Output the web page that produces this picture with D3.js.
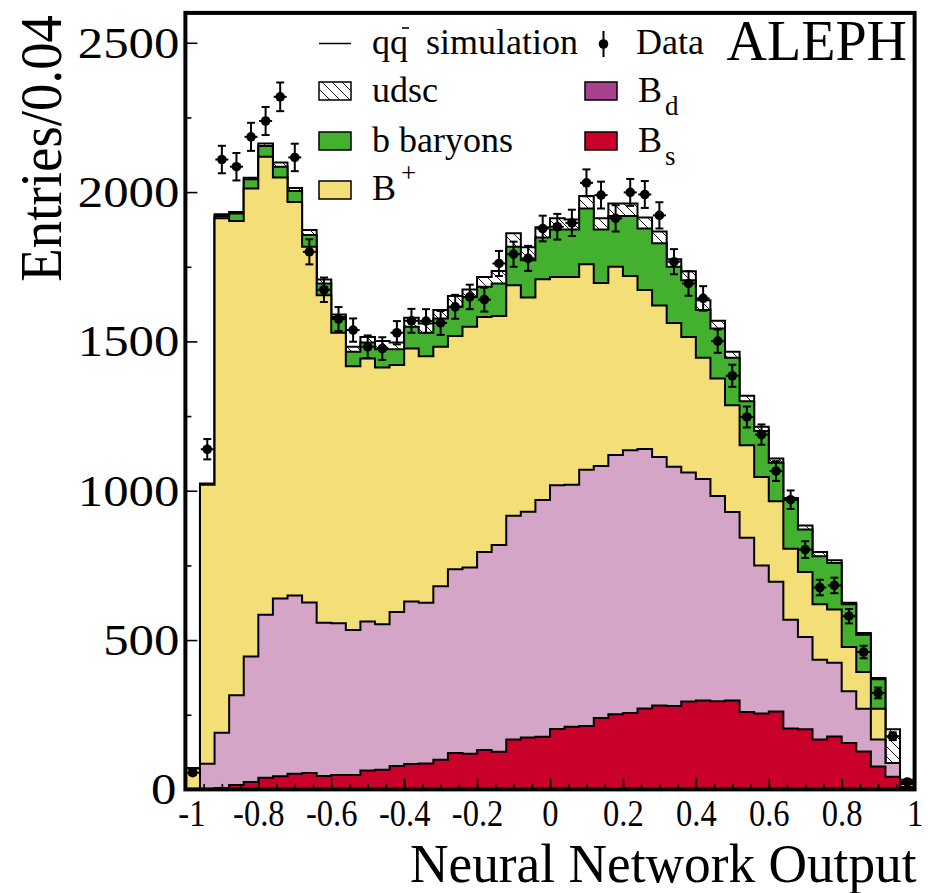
<!DOCTYPE html>
<html>
<head>
<meta charset="utf-8">
<script src="https://cdn.jsdelivr.net/npm/d3@7"></script>
<style>
  body { margin: 0; background: #fff; }
  svg { display: block; }
  text { font-family: "Liberation Serif", "Times New Roman", serif; fill: #000; }
</style>
</head>
<body>
<svg id="chart" width="928" height="893"></svg>
<script>
// Neural network output, 50 bins of width 0.04 between -1 and 1
const xMin = -1, xMax = 1, binWidth = 0.04;

// Simulated contributions per bin (entries)
const bsCounts = [0, 0, 5, 15, 25, 39, 44, 52, 55, 45, 48, 48, 63, 66, 78, 85, 87, 99, 122, 119,
  132, 126, 167, 174, 176, 202, 210, 212, 239, 252, 256, 271, 281, 279, 294, 298, 295, 298, 259, 254,
  261, 204, 201, 167, 177, 155, 127, 77, 42, 8];
const bdCounts = [0, 86, 185, 300, 420, 546, 595, 597, 571, 513, 508, 486, 499, 487, 516, 544, 538, 581, 615, 624,
  663, 692, 749, 756, 793, 816, 810, 858, 844, 868, 880, 869, 832, 801, 767, 741, 687, 631, 584, 496,
  434, 364, 309, 267, 247, 174, 143, 90, 46, 10];
const bPlusCounts = [70, 934, 1722, 1588, 1567, 1533, 1410, 1318, 1191, 1097, 973, 883, 881, 860, 827, 847, 825, 802, 781, 806,
  787, 767, 772, 717, 739, 698, 696, 688, 613, 630, 583, 532, 507, 482, 454, 406, 394, 357, 309, 296,
  270, 238, 218, 186, 178, 148, 123, 103, 0, 0];
const baryonCounts = [0, 2, 8, 25, 31, 36, 36, 37, 39, 39, 53, 48, 53, 61, 53, 73, 79, 95, 98, 100,
  101, 109, 129, 125, 140, 159, 159, 187, 179, 170, 201, 206, 209, 188, 190, 160, 167, 159, 148, 154,
  129, 164, 142, 161, 156, 143, 125, 99, 0, 0];
const udscCounts = [2, 2, 6, 5, 5, 9, 14, 10, 17, 13, 8, 17, 19, 27, 22, 30, 31, 28, 36, 25,
  33, 42, 45, 43, 34, 37, 33, 42, 37, 42, 42, 37, 39, 25, 30, 33, 26, 20, 18, 14,
  14, 6, 14, 14, 9, 5, 6, 4, 113, 14];

// Measured data with statistical errors
const dataCounts = [56, 1139, 2109, 2085, 2185, 2238, 2319, 2116, 1800, 1673, 1575, 1538, 1482, 1476, 1529, 1569, 1568, 1562, 1616, 1649,
  1640, 1761, 1792, 1778, 1878, 1884, 1897, 2031, 1990, 1912, 1999, 1992, 1922, 1767, 1694, 1644, 1501, 1385, 1247, 1188,
  1066, 970, 803, 676, 683, 580, 460, 323, 178, 25];
const dataErrors = [8, 34, 46, 46, 47, 47, 48, 46, 42, 41, 40, 39, 38, 38, 39, 40, 40, 40, 40, 41,
  40, 42, 42, 42, 43, 43, 44, 45, 45, 44, 45, 45, 44, 42, 41, 41, 39, 37, 35, 34,
  33, 31, 28, 26, 26, 24, 21, 18, 13, 5];

// Axis ticks and labels
const xMajorTicks = [-1, -0.8, -0.6, -0.4, -0.2, 0, 0.2, 0.4, 0.6, 0.8, 1];
const xTickLabels = ["-1", "-0.8", "-0.6", "-0.4", "-0.2", "0", "0.2", "0.4", "0.6", "0.8", "1"];
const yMajorTicks = [0, 500, 1000, 1500, 2000, 2500];
const yTickLabels = ["0", "500", "1000", "1500", "2000", "2500"];

const colors = {
  bs: "#c8002a",
  bd: "#d4a5c7",
  bdLegend: "#a8428e",
  bPlus: "#f3de78",
  baryon: "#43b02f"
};

const svg = d3.select("#chart");
const plot = { left: 185.4, right: 914.6, top: 12.9, bottom: 789.4 };

const x = d3.scaleLinear().domain([xMin, xMax]).range([plot.left, plot.right]);
const y = d3.scaleLinear().domain([0, 2600]).range([plot.bottom, plot.top]);

// Hatch pattern for the udsc component
const defs = svg.append("defs");
const hatch = defs.append("pattern")
  .attr("id", "hatch").attr("patternUnits", "userSpaceOnUse")
  .attr("width", 10).attr("height", 10);
hatch.append("rect").attr("width", 10).attr("height", 10).attr("fill", "#fff");
hatch.append("path")
  .attr("d", "M0,0L10,10M-1,9L1,11M9,-1L11,1")
  .attr("stroke", "#000").attr("stroke-width", 0.9);

// Stack the components from the bottom up
const rows = bsCounts.map((_, i) => ({
  bs: bsCounts[i], bd: bdCounts[i], bPlus: bPlusCounts[i],
  baryon: baryonCounts[i], udsc: udscCounts[i]
}));
const keys = ["bs", "bd", "bPlus", "baryon", "udsc"];
const stacked = d3.stack().keys(keys)(rows);

const binLow = i => xMin + i * binWidth;

// Step outline of a cumulative histogram, filled down to zero
function cumulativePoints(layer) {
  const pts = layer.map((d, i) => [binLow(i), d[1]]);
  pts.push([xMax, layer[layer.length - 1][1]]);
  return pts;
}
const stepArea = d3.area()
  .x(d => x(d[0]))
  .y0(y(0))
  .y1(d => y(d[1]))
  .curve(d3.curveStepAfter);

const fills = { udsc: "url(#hatch)", baryon: colors.baryon, bPlus: colors.bPlus, bd: colors.bd, bs: colors.bs };

const histG = svg.append("g");
// Draw the largest cumulative first so every boundary keeps its outline
[...stacked].reverse().forEach(layer => {
  histG.append("path")
    .attr("d", stepArea(cumulativePoints(layer)))
    .attr("fill", fills[layer.key])
    .attr("stroke", "#000")
    .attr("stroke-width", 2)
    .attr("stroke-linejoin", "miter");
});

// Data points with error bars
const dataG = svg.append("g");
dataCounts.forEach((v, i) => {
  const cx = x(binLow(i) + binWidth / 2);
  const cy = y(v);
  const yHi = y(v + dataErrors[i]);
  const yLo = y(Math.max(0, v - dataErrors[i]));
  const g = dataG.append("g").attr("stroke", "#000").attr("stroke-width", 2);
  g.append("line").attr("x1", cx).attr("x2", cx).attr("y1", yHi).attr("y2", yLo);
  g.append("line").attr("x1", cx - 4).attr("x2", cx + 4).attr("y1", yHi).attr("y2", yHi);
  g.append("line").attr("x1", cx - 4).attr("x2", cx + 4).attr("y1", yLo).attr("y2", yLo);
  g.append("line").attr("x1", cx - 6.5).attr("x2", cx + 6.5).attr("y1", cy).attr("y2", cy);
  dataG.append("circle").attr("cx", cx).attr("cy", cy).attr("r", 4.8).attr("fill", "#000");
});

// Axes: ticks point into the frame
const xAxisMajor = d3.axisBottom(x).tickValues(xMajorTicks)
  .tickFormat((d, i) => xTickLabels[i]).tickSize(-11).tickPadding(10);
const xMinorTicks = d3.range(0, 41).map(k => xMin + k * 0.05);
const xAxisMinor = d3.axisBottom(x).tickValues(xMinorTicks).tickFormat("").tickSize(-5.5);

const yAxisMajor = d3.axisLeft(y).tickValues(yMajorTicks)
  .tickFormat((d, i) => yTickLabels[i]).tickSize(-12).tickPadding(6);
const yAxisMinor = d3.axisLeft(y).tickValues([250, 750, 1250, 1750, 2250]).tickFormat("").tickSize(-6);

function styleAxis(g) {
  g.select(".domain").remove();
  g.selectAll(".tick line").attr("stroke", "#000").attr("stroke-width", 1.6);
}

svg.append("g").attr("transform", `translate(0,${plot.bottom})`).call(xAxisMinor).call(styleAxis);
const gx = svg.append("g").attr("transform", `translate(0,${plot.bottom})`).call(xAxisMajor).call(styleAxis);
// x labels are set in a narrow, tall face; the corner label sits clear of the y axis
gx.selectAll(".tick text")
  .attr("font-size", 37).attr("font-family", "Liberation Serif").attr("fill", "#000")
  .each(function (d) {
    const t = d3.select(this);
    const ty = +t.attr("y");
    const nudge = d === xMin ? 6 : 0;
    t.attr("y", 0).attr("transform", `translate(${nudge},${ty}) scale(0.88,1)`);
  });

svg.append("g").attr("transform", `translate(${plot.left},0)`).call(yAxisMinor).call(styleAxis);
const gy = svg.append("g").attr("transform", `translate(${plot.left},0)`).call(yAxisMajor).call(styleAxis);
// y labels are set wide
gy.selectAll(".tick text")
  .attr("font-size", 45).attr("font-family", "Liberation Serif").attr("fill", "#000")
  .each(function (d) {
    const t = d3.select(this);
    const tx = +t.attr("x") - (d === 0 ? 3 : 0);
    t.attr("x", 0).attr("transform", `translate(${tx},0) scale(1.13,1)`);
  });

// Frame
svg.append("rect")
  .attr("x", plot.left).attr("y", plot.top)
  .attr("width", plot.right - plot.left).attr("height", plot.bottom - plot.top)
  .attr("fill", "none").attr("stroke", "#000").attr("stroke-width", 4);

// Axis titles
svg.append("text")
  .attr("transform", `translate(${plot.right + 2},882) scale(0.97,1)`)
  .attr("text-anchor", "end").attr("font-size", 55)
  .text("Neural Network Output");
svg.append("text")
  .attr("transform", "translate(61,15) rotate(-90) scale(0.93,1)")
  .attr("text-anchor", "end").attr("font-size", 59)
  .text("Entries/0.04");

// Experiment label
svg.append("text")
  .attr("x", 907).attr("y", 60)
  .attr("text-anchor", "end").attr("font-size", 56)
  .text("ALEPH");

// Legend
const leg = svg.append("g");
const fontLeg = 36;
// simulation line
leg.append("line").attr("x1", 319).attr("x2", 351).attr("y1", 43.5).attr("y2", 43.5)
  .attr("stroke", "#000").attr("stroke-width", 1.5);
leg.append("text").attr("x", 372).attr("y", 53.5).attr("font-size", fontLeg).text("qq");
leg.append("line").attr("x1", 402).attr("x2", 409).attr("y1", 28).attr("y2", 28)
  .attr("stroke", "#000").attr("stroke-width", 1.6);
leg.append("text").attr("x", 426).attr("y", 53.5).attr("font-size", fontLeg).text("simulation");
// data symbol
leg.append("line").attr("x1", 603.5).attr("x2", 603.5).attr("y1", 31).attr("y2", 57)
  .attr("stroke", "#000").attr("stroke-width", 2);
leg.append("circle").attr("cx", 603.5).attr("cy", 44).attr("r", 4.8).attr("fill", "#000");
leg.append("text").attr("x", 636).attr("y", 53.5).attr("font-size", fontLeg).text("Data");

const boxes = [
  { x: 319, y: 82, fill: "url(#hatch)", label: "udsc", ly: 102 },
  { x: 319, y: 132, fill: colors.baryon, label: "b baryons", ly: 151.5 },
  { x: 319, y: 181, fill: colors.bPlus, label: "B", sup: "+", ly: 200 },
  { x: 585, y: 82, fill: colors.bdLegend, label: "B", sub: "d", ly: 102 },
  { x: 585, y: 132, fill: colors.bs, label: "B", sub: "s", ly: 151.5 }
];
boxes.forEach(b => {
  leg.append("rect").attr("x", b.x).attr("y", b.y).attr("width", 32).attr("height", 18)
    .attr("fill", b.fill).attr("stroke", "#000").attr("stroke-width", 1.5);
  const t = leg.append("text").attr("x", b.x + 53).attr("y", b.ly).attr("font-size", fontLeg);
  t.append("tspan").text(b.label);
  if (b.sup) t.append("tspan").attr("dx", 5).attr("dy", -18).attr("font-size", 27).text(b.sup);
  if (b.sub) t.append("tspan").attr("dx", 3).attr("dy", 13).attr("font-size", 27).text(b.sub);
});
</script>
</body>
</html>
